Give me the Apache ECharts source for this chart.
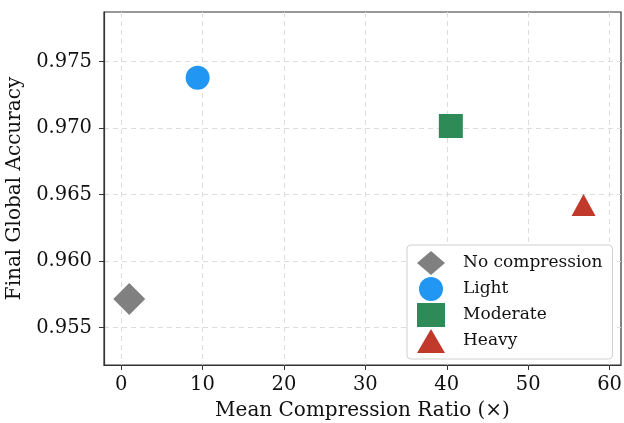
<!DOCTYPE html>
<html>
<head>
<meta charset="utf-8">
<script src="https://cdn.jsdelivr.net/npm/echarts@6/dist/echarts.min.js"></script>
<style>
  html, body { margin: 0; padding: 0; background: #fff; }
  #chart { width: 624px; height: 423px; }
</style>
</head>
<body>
<div id="chart"></div>
<script>
// data
const names = ['No compression', 'Light', 'Moderate', 'Heavy'];
const ratios = [1.0, 9.4, 40.5, 56.8];
const accuracies = [0.95715, 0.97377, 0.97015, 0.96421];
const symbols = ['diamond', 'circle', 'rect', 'triangle'];
const sizes = [[32, 32], [24, 24], [24, 24], [24, 22]];
const colors = ['#808080', '#2196f3', '#2e8b57', '#c0392b'];

const xTicks = [0, 10, 20, 30, 40, 50, 60];
const yTicks = [0.955, 0.960, 0.965, 0.970, 0.975];

const font = 'DejaVu Serif';

const chart = echarts.init(document.getElementById('chart'));

const series = names.map((n, i) => ({
  name: n,
  type: 'scatter',
  symbol: symbols[i],
  symbolSize: sizes[i],
  itemStyle: { color: colors[i], opacity: 1 },
  data: [[ratios[i], accuracies[i]]],
  z: 3
}));

chart.setOption({
  animation: false,
  grid: {
    left: 104, right: 3, top: 12, bottom: 58,
    outerBoundsMode: 'none',
    containLabel: false,
    show: true, borderColor: '#333', borderWidth: 1.2
  },
  xAxis: {
    type: 'value',
    min: -2.1, max: 61.4,
    interval: 10,
    name: 'Mean Compression Ratio (×)',
    nameLocation: 'middle',
    nameGap: 36,
    nameTextStyle: { fontFamily: font, fontSize: 20, color: '#111' },
    axisLine: { show: true, onZero: false, lineStyle: { color: '#333', width: 1.2 } },
    axisTick: { show: true, length: 5, lineStyle: { color: '#333' },
      customValues: xTicks },
    axisLabel: {
      fontFamily: font, fontSize: 19.5, color: '#111', margin: 10,
      customValues: xTicks,
      showMinLabel: true, showMaxLabel: true
    },
    splitLine: { show: true, lineStyle: { color: '#dcdcdc', type: [5, 4], width: 1 } }
  },
  yAxis: {
    type: 'value',
    min: 0.95218, max: 0.97872,
    name: 'Final Global Accuracy',
    nameLocation: 'middle',
    nameGap: 68,
    nameTextStyle: { fontFamily: font, fontSize: 20, color: '#111' },
    axisLine: { show: true, onZero: false, lineStyle: { color: '#333', width: 1.2 } },
    axisTick: { show: true, length: 5, lineStyle: { color: '#333' },
      customValues: yTicks },
    axisLabel: {
      fontFamily: font, fontSize: 19.5, color: '#111', margin: 12,
      customValues: yTicks,
      formatter: v => v.toFixed(3)
    },
    splitLine: { show: true, lineStyle: { color: '#dcdcdc', type: [5, 4], width: 1 } }
  },
  legend: {
    orient: 'vertical',
    left: 407, top: 245,
    padding: [6, 10, 6, 10],
    itemWidth: 28, itemHeight: 24,
    itemGap: 2,
    backgroundColor: '#fff',
    borderColor: '#d0d0d0',
    borderWidth: 1,
    borderRadius: 4,
    data: names,
    textStyle: { fontFamily: font, fontSize: 17, color: '#111', padding: [0, 0, 0, 13] }
  },
  series: series
});
</script>
</body>
</html>
